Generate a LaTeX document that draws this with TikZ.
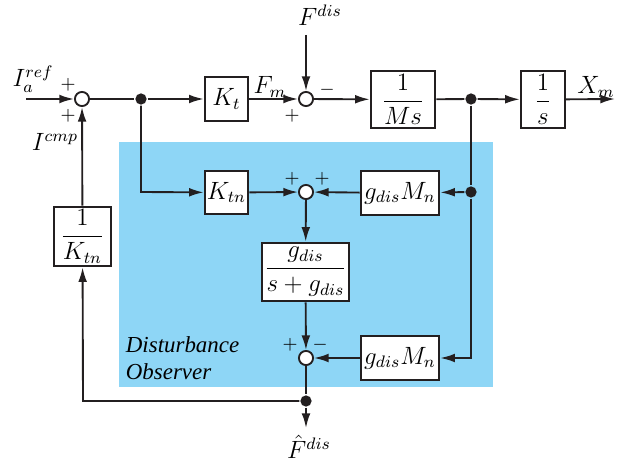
\documentclass[tikz,border=0pt]{standalone}
\usepackage{amsmath}
\usepackage{fontspec}
\newfontfamily\obsfont{Liberation Serif}
\usetikzlibrary{arrows.meta}
\definecolor{obsblue}{RGB}{142,214,246}
\definecolor{ink}{RGB}{35,31,32}

\begin{document}
\begin{tikzpicture}[x=0.48pt,y=-0.48pt,line width=0.9pt,draw=ink,
  >={Latex[length=7pt,width=4.2pt]},
  every node/.style={font=\large},
  blk/.style={draw=ink,line width=1.3pt,fill=white,inner sep=0pt},
  sumnode/.style={draw=ink,circle,line width=0.9pt,fill=white,minimum size=6.8pt,inner sep=0pt},
  dotnode/.style={circle,fill=ink,minimum size=5.4pt,inner sep=0pt},
  siglabel/.style={inner sep=0.5pt},
  sgn/.style={font=\small,inner sep=0pt}]
  \useasboundingbox (0,0) rectangle (619,461);
  % observer area
  \fill[obsblue] (119,142) rectangle (493,387);
  \node[anchor=west,align=left,font=\obsfont\itshape\fontsize{11}{13.2}\selectfont,inner sep=0pt]
    (dob) at (125,358) {Disturbance\\Observer};
  % blocks
  \node[blk,minimum width=20.6pt,minimum height=21.1pt] (kt) at (226.5,99) {$K_t$};
  \node[blk,minimum width=30.7pt,minimum height=27.4pt] (ms) at (403,99.5) {$\dfrac{1}{Ms}$};
  \node[blk,minimum width=21pt,minimum height=27.4pt] (si) at (543,99.5) {$\dfrac{1}{s}$};
  \node[blk,minimum width=20.6pt,minimum height=20.6pt] (ktn) at (226.5,192.5) {$K_{tn}$};
  \node[blk,minimum width=37.4pt,minimum height=21pt] (gm1) at (400,193) {$g_{dis}M_n$};
  \node[blk,minimum width=41.8pt,minimum height=27.8pt] (gf) at (305.5,272) {$\dfrac{g_{dis}}{s+g_{dis}}$};
  \node[blk,minimum width=37.4pt,minimum height=21pt] (gm2) at (400,358) {$g_{dis}M_n$};
  \node[blk,minimum width=27.4pt,minimum height=28.3pt] (iktn) at (82.5,236.5) {$\dfrac{1}{K_{tn}}$};
  % summing points
  \node[sumnode] (s1) at (82,99) {};
  \node[sumnode] (s2) at (306,99) {};
  \node[sumnode] (s3) at (306,192) {};
  \node[sumnode] (s4) at (306,358) {};
  % branch points
  \node[dotnode] (d1) at (141,99) {};
  \node[dotnode] (d2) at (471,99) {};
  \node[dotnode] (d3) at (471,192) {};
  \node[dotnode] (d4) at (306,401) {};
  % free ends and corners
  \coordinate (in) at (26,99);
  \coordinate (out) at (615,99);
  \coordinate (fdis) at (306,35);
  \coordinate (fhat) at (306,428);
  \coordinate (c1) at (141,192);
  \coordinate (c2) at (471,358);
  \coordinate (c3) at (83,401);
  % signals
  \node[siglabel] (iref) at (33,79) {$I_a^{ref}$};
  \node[siglabel] (icmp) at (55,142) {$I^{cmp}$};
  \node[siglabel] (fm) at (270,87) {$F_m$};
  \node[siglabel] (fd) at (320,15) {$F^{dis}$};
  \node[siglabel] (xm) at (596,87) {$X_m$};
  \node[siglabel] (fh) at (309,447) {$\hat{F}^{dis}$};
  % signs
  \node[sgn] (p1) at (68,85) {$+$};
  \node[sgn] (p2) at (68,116) {$+$};
  \node[sgn] (p3) at (292,116) {$+$};
  \node[sgn] (m1) at (327,90) {$-$};
  \node[sgn] (p4) at (292,179) {$+$};
  \node[sgn] (p5) at (322,179) {$+$};
  \node[sgn] (p6) at (290,345) {$+$};
  \node[sgn] (m2) at (320,345) {$-$};
  % connections
  \draw[->] (in) -- (s1);
  \draw (s1) -- (d1);
  \draw[->] (d1) -- (kt);
  \draw[->] (kt) -- (s2);
  \draw[->] (fdis) -- (s2);
  \draw[->] (s2) -- (ms);
  \draw (ms) -- (d2);
  \draw[->] (d2) -- (si);
  \draw[->] (si) -- (out);
  \draw[->] (d1) -- (c1) -- (ktn);
  \draw[->] (ktn) -- (s3);
  \draw[->] (gm1) -- (s3);
  \draw (d2) -- (d3);
  \draw[->] (d3) -- (gm1);
  \draw[->] (d3) -- (c2) -- (gm2);
  \draw[->] (s3) -- (gf);
  \draw[->] (gf) -- (s4);
  \draw[->] (gm2) -- (s4);
  \draw (s4) -- (d4);
  \draw[->] (d4) -- (fhat);
  \draw[->] (d4) -- (c3) -- (iktn);
  \draw[->] (iktn) -- (s1);
\end{tikzpicture}
\end{document}
